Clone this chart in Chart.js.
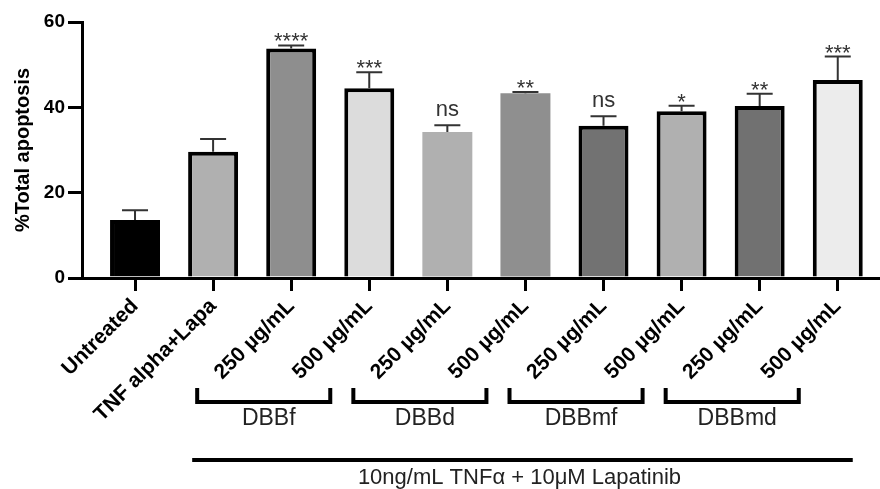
<!DOCTYPE html>
<html>
<head>
<meta charset="utf-8">
<title>Total apoptosis</title>
<script src="https://cdn.jsdelivr.net/npm/chart.js@4.4.1/dist/chart.umd.min.js"></script>
<style>
  html, body { margin: 0; padding: 0; background: #fff; }
  #wrap { width: 880px; height: 489px; }
</style>
</head>
<body>
<div id="wrap"><canvas id="apoptosisChart" width="880" height="489"></canvas></div>
<script>
const categories = ['Untreated', 'TNF alpha+Lapa', '250 µg/mL', '500 µg/mL', '250 µg/mL',
  '500 µg/mL', '250 µg/mL', '500 µg/mL', '250 µg/mL', '500 µg/mL'];
const means = [13.6, 29.6, 53.8, 44.5, 34.2, 43.3, 35.7, 39.1, 40.3, 46.4];
const errors = [2.3, 3.0, 0.7, 3.7, 1.6, 0.3, 2.2, 1.3, 2.9, 5.5];
const significance = ['', '', '****', '***', 'ns', '**', 'ns', '*', '**', '***'];
const yTicks = [0, 20, 40, 60];
const groupNames = ['DBBf', 'DBBd', 'DBBmf', 'DBBmd'];
const groupStart = [2, 4, 6, 8];
const treatmentLabel = '10ng/mL TNFα + 10μM Lapatinib';

// bar styling
const fills = ['#000000', '#b0b0b0', '#8e8e8e', '#dcdcdc', '#b0b0b0',
  '#8f8f8f', '#727272', '#b0b0b0', '#717171', '#ececec'];
const borders = [4, 4, 4, 4, 0, 0, 4, 4, 4, 4];

const FONT = "'Liberation Sans', Arial, sans-serif";

const extras = {
  id: 'extras',
  afterDatasetsDraw(chart) {
    const { ctx, chartArea, scales: { x, y } } = chart;
    const base = chartArea.bottom;
    ctx.save();

    // error bars (upper only) + significance marks
    ctx.strokeStyle = '#333';
    ctx.fillStyle = '#333';
    ctx.lineWidth = 2;
    ctx.textAlign = 'center';
    ctx.textBaseline = 'alphabetic';
    means.forEach((m, i) => {
      const cx = x.getPixelForValue(i);
      const top = y.getPixelForValue(m);
      const errTop = y.getPixelForValue(m + errors[i]);
      ctx.beginPath();
      ctx.moveTo(cx, top);
      ctx.lineTo(cx, errTop);
      ctx.moveTo(cx - 13, errTop);
      ctx.lineTo(cx + 13, errTop);
      ctx.stroke();

      const s = significance[i];
      if (!s) return;
      ctx.font = '22px ' + FONT;
      if (s === 'ns') {
        ctx.fillText(s, cx, errTop - 9);
      } else {
        ctx.fillText(s, cx, errTop + 3);
      }
    });

    // group brackets
    ctx.strokeStyle = '#000';
    ctx.fillStyle = '#222';
    ctx.lineWidth = 4;
    ctx.lineJoin = 'miter';
    ctx.font = '23px ' + FONT;
    groupNames.forEach((name, g) => {
      const i = groupStart[g];
      const l = x.getPixelForValue(i) - 96 + 2;
      const r = x.getPixelForValue(i + 1) - 37 - 2;
      ctx.beginPath();
      ctx.moveTo(l, base + 110);
      ctx.lineTo(l, base + 124);
      ctx.lineTo(r, base + 124);
      ctx.lineTo(r, base + 110);
      ctx.stroke();
      ctx.fillText(name, (l + r) / 2 + 5, base + 147);
    });

    // treatment line
    const l = x.getPixelForValue(groupStart[0]) - 99;
    const r = x.getPixelForValue(categories.length - 1) + 15;
    ctx.beginPath();
    ctx.moveTo(l, base + 182);
    ctx.lineTo(r, base + 182);
    ctx.stroke();
    ctx.font = '22px ' + FONT;
    ctx.fillText(treatmentLabel, (l + r) / 2 - 3, base + 206);

    ctx.restore();
  }
};

new Chart(document.getElementById('apoptosisChart').getContext('2d'), {
  type: 'bar',
  data: {
    datasets: [{
      data: means.map((v, i) => ({ x: i, y: v })),
      backgroundColor: fills,
      borderColor: '#000',
      borderWidth: borders,
      borderSkipped: 'start',
      categoryPercentage: 1,
      barPercentage: 0.64
    }]
  },
  options: {
    responsive: false,
    animation: false,
    layout: { padding: { top: 22, left: 0, right: 0, bottom: 0 } },
    plugins: { legend: { display: false }, tooltip: { enabled: false } },
    scales: {
      x: {
        type: 'linear',
        offset: false,
        min: -0.679,
        max: 9.541,
        afterBuildTicks: (s) => { s.ticks = categories.map((_, i) => ({ value: i })); },
        afterFit: (s) => { s.height = 211; },
        ticks: {
          autoSkip: false,
          minRotation: 45,
          maxRotation: 45,
          padding: 3,
          color: '#000',
          font: { family: FONT, size: 21, weight: 'bold' },
          callback: (v) => categories[v]
        },
        grid: { offset: false, drawOnChartArea: false, drawTicks: true, tickLength: 13, lineWidth: 3, color: '#000' },
        border: { display: true, width: 3, color: '#000' }
      },
      y: {
        min: 0,
        max: 60,
        afterBuildTicks: (s) => { s.ticks = yTicks.map((v) => ({ value: v })); },
        afterFit: (s) => { s.width = 82; },
        ticks: {
          padding: 3,
          color: '#000',
          font: { family: FONT, size: 19, weight: 'bold' }
        },
        grid: { drawOnChartArea: false, drawTicks: true, tickLength: 14, lineWidth: 3, color: '#000' },
        border: { display: true, width: 3, color: '#000' },
        title: {
          display: true,
          text: '%Total apoptosis',
          color: '#000',
          padding: { top: 11, bottom: 0 },
          font: { family: FONT, size: 20, weight: 'bold' }
        }
      }
    }
  },
  plugins: [extras]
});
</script>
</body>
</html>
